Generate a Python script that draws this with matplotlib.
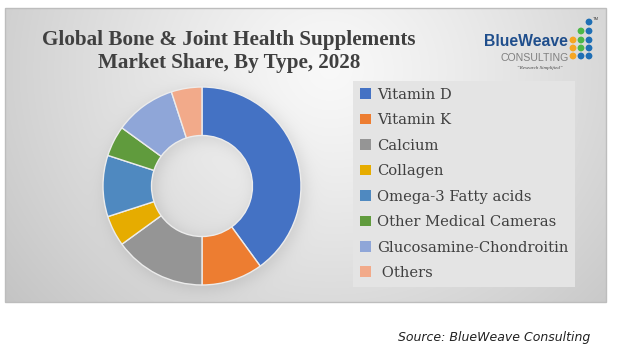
import numpy as np
import matplotlib
matplotlib.use("Agg")
import matplotlib.pyplot as plt
from matplotlib.patches import Rectangle

# ---------------- data ----------------
categories = ["Vitamin D", "Vitamin K", "Calcium", "Collagen",
              "Omega-3 Fatty acids", "Other Medical Cameras",
              "Glucosamine-Chondroitin", " Others"]
shares = [40, 10, 15, 5, 10, 5, 10, 5]
colors = ["#4472C4", "#ED7D31", "#959595", "#E6AC00",
          "#4F89C0", "#609B3D", "#8FA6D8", "#F2AA8A"]
title_lines = ["Global Bone & Joint Health Supplements",
               "Market Share, By Type, 2028"]
source_text = "Source: BlueWeave Consulting"

W, H = 637, 363
fig = plt.figure(figsize=(W / 100, H / 100), dpi=100, facecolor="white")

# ---------------- background panel ----------------
bg = fig.add_axes([0, 0, 1, 1])
bg.set_xlim(0, W)
bg.set_ylim(H, 0)
bg.axis("off")

px0, px1, py0, py1 = 5, 606, 8, 302
xs = np.arange(px0, px1) + 0.5
ys = np.arange(py0, py1) + 0.5
X, Y = np.meshgrid(xs, ys)
d = np.hypot(X - 330, (Y - 70) * 1.1)
L = 0.975 - 0.2 * np.clip(d / 400, 0, 1.3) ** 1.2
# soft shadow of the donut ring
cx, cy, Ro, Ri = 202, 186, 99, 50
r = np.hypot(X - (cx + 3), Y - (cy + 3))
ann = 0.5 * np.tanh((r - Ri + 2) / 9) - 0.5 * np.tanh((r - Ro - 2) / 9)
L = L - 0.09 * ann
L = np.clip(L, 0, 1)
img = np.dstack([L, L, L])
bg.imshow(img, extent=[px0, px1, py1, py0], interpolation="bilinear", zorder=0)
bg.add_patch(Rectangle((px0, py0), px1 - px0, py1 - py0, fill=False,
                       edgecolor="#bdbdbd", linewidth=1.0, zorder=1))

# ---------------- title ----------------
fig.text(229 / W, 1 - 40 / H, title_lines[0], ha="center", va="center",
         fontsize=15.2, fontweight="bold", family="Liberation Serif", color="#404040")
fig.text(229 / W, 1 - 63 / H, title_lines[1], ha="center", va="center",
         fontsize=15.2, fontweight="bold", family="Liberation Serif", color="#404040")

# ---------------- logo ----------------
fig.text(526 / W, 1 - 42 / H, "BlueWeave", ha="center", va="center",
         fontsize=11.3, fontweight="bold", family="Liberation Sans",
         color="#1F4E8C")
fig.text(535 / W, 1 - 58 / H, "CONSULTING", ha="center", va="center",
         fontsize=7.6, family="Liberation Sans", color="#808080")
fig.text(540 / W, 1 - 68 / H, "\u201cResearch Simplified\u201d", ha="center", va="center",
         fontsize=3.6, family="Liberation Serif", style="italic", color="#404040")
fig.text(596 / W, 1 - 19 / H, "TM", ha="center", va="center",
         fontsize=3, family="Liberation Sans", color="#404040")
dot_x = [573, 573, 573, 581, 581, 581, 581, 589, 589, 589, 589, 589]
dot_y = [40, 48, 56, 31, 40, 48, 56, 22, 31, 40, 48, 56]
dot_c = ["#F5A623", "#F5A623", "#F5A623",
         "#4CB848", "#4CB848", "#4CB848", "#1F6FB5",
         "#1F6FB5", "#1F6FB5", "#1F6FB5", "#1F6FB5", "#1F6FB5"]
bg.scatter(dot_x, dot_y, s=24, c=dot_c, zorder=3, linewidths=0)

# ---------------- donut ----------------
ax = fig.add_axes([(cx - Ro) / W, (H - cy - Ro) / H, 2 * Ro / W, 2 * Ro / H])
ax.set_facecolor("none")
wedges, _ = ax.pie(shares, colors=colors, startangle=90, counterclock=False,
                   radius=1.0,
                   wedgeprops=dict(width=0.49, edgecolor="#ececec", linewidth=1.0))
ax.set_xlim(-1, 1)
ax.set_ylim(-1, 1)
ax.axis("off")

# ---------------- legend ----------------
leg = fig.legend(wedges, categories, loc="upper left",
                 bbox_to_anchor=(353 / W, 1 - 81 / H),
                 frameon=True, fancybox=False, framealpha=1.0,
                 facecolor="#e4e4e4", edgecolor="none",
                 prop=dict(family="DejaVu Serif", size=10.6),
                 handlelength=0.75, handleheight=0.75, handletextpad=0.45,
                 labelspacing=0.78, borderpad=0.45, borderaxespad=0)
for t in leg.get_texts():
    t.set_color("#404040")
for h in leg.legend_handles:
    h.set_edgecolor("none")

# ---------------- source ----------------
fig.text(398 / W, 1 - 337 / H, source_text, ha="left", va="center",
         fontsize=9.0, family="DejaVu Sans", style="italic", color="#222222")

fig.savefig("out.png", dpi=100, facecolor="white")
